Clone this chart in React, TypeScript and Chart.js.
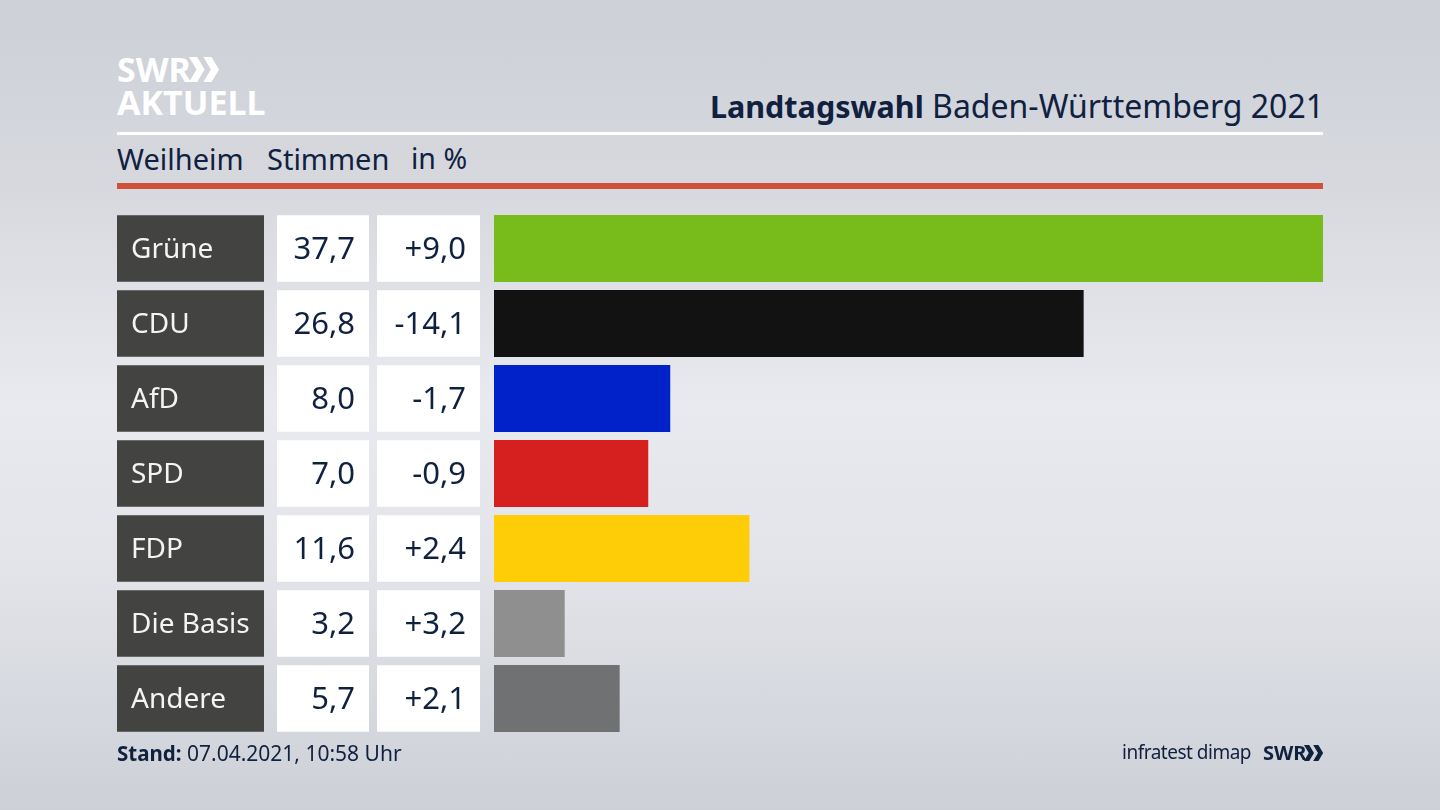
import { Chart, registerables } from "chart.js";
import { useEffect, useRef } from "react";

Chart.register(...registerables);

const parties = ["Grüne", "CDU", "AfD", "SPD", "FDP", "Die Basis", "Andere"];
const shares = [37.7, 26.8, 8.0, 7.0, 11.6, 3.2, 5.7];
const changes = [9.0, -14.1, -1.7, -0.9, 2.4, 3.2, 2.1];
const barColors = ["#78bc1b", "#121212", "#0022c8", "#d61f1f", "#ffcc08", "#8f8f8f", "#707172"];

const NAVY = "#10213f";
const FONT = '"Noto Sans", sans-serif';

const fmt = (v: number) => v.toFixed(1).replace(".", ",");
const fmtChange = (v: number) => (v > 0 ? "+" : "") + fmt(v);

// grey name box and the two white cells left of each bar
const rowCells = {
  id: "rowCells",
  beforeDraw(chart: any) {
    const { ctx, scales } = chart;
    ctx.save();
    parties.forEach((_, i) => {
      const y = scales.y.getPixelForValue(i);
      ctx.fillStyle = "#434341";
      ctx.fillRect(117, y - 33.25, 147, 66.5);
      ctx.fillStyle = "#ffffff";
      ctx.fillRect(277, y - 33.25, 92, 66.5);
      ctx.fillRect(377, y - 33.25, 103, 66.5);
    });
    ctx.restore();
    // party names sit a little below the row centre
    ctx.save();
    ctx.translate(0, 2);
  },
  beforeDatasetsDraw(chart: any) {
    chart.ctx.restore();
  },
  afterDraw(chart: any) {
    const { ctx, scales } = chart;
    ctx.save();
    ctx.fillStyle = NAVY;
    ctx.font = `31px ${FONT}`;
    ctx.textAlign = "right";
    ctx.textBaseline = "middle";
    parties.forEach((_, i) => {
      const y = scales.y.getPixelForValue(i) + 1.5;
      ctx.fillText(fmt(shares[i]), 355, y);
      ctx.fillText(fmtChange(changes[i]), 466, y);
    });
    ctx.restore();
  },
};

function Label(props: { x?: number; right?: number; y: number; size: number; weight?: number; color?: string; children: any }) {
  const { x, right, y, size, weight, color, children } = props;
  return (
    <div
      style={{
        position: "absolute",
        left: x,
        right,
        top: y,
        fontSize: size,
        fontWeight: weight ?? 400,
        color: color ?? NAVY,
        lineHeight: 1,
        whiteSpace: "nowrap",
      }}
    >
      {children}
    </div>
  );
}

function Chevrons(props: { x: number; y: number; h: number; color: string }) {
  const { x, y, h, color } = props;
  return (
    <svg style={{ position: "absolute", left: x, top: y }} width={h * 1.2} height={h} viewBox="0 0 24 20">
      <path d="M0 0h6.5l6 10-6 10H0l6-10zM11.5 0h6.5l6 10-6 10h-6.5l6-10z" fill={color} />
    </svg>
  );
}

export default function App() {
  const canvasRef = useRef<HTMLCanvasElement>(null);

  useEffect(() => {
    if (!canvasRef.current) return;
    const chart = new Chart(canvasRef.current, {
      type: "bar",
      data: {
        labels: parties,
        datasets: [{ data: shares, backgroundColor: barColors, barThickness: 66.5 }],
      },
      options: {
        indexAxis: "y",
        responsive: false,
        animation: false,
        layout: { padding: { left: 131, right: 117, top: 211, bottom: 74 } },
        plugins: { legend: { display: false }, tooltip: { enabled: false } },
        scales: {
          x: { display: false, min: 0, max: 37.7 },
          y: {
            afterFit: (scale: any) => {
              scale.width = 363;
            },
            grid: { display: false },
            border: { display: false },
            ticks: {
              crossAlign: "far",
              color: "#f4f4f4",
              font: { family: "Noto Sans", size: 28 },
              autoSkip: false,
            },
          },
        },
      },
      plugins: [rowCells],
    });
    return () => chart.destroy();
  }, []);

  return (
    <div
      style={{
        position: "fixed",
        left: 0,
        top: 0,
        width: 1440,
        height: 810,
        overflow: "hidden",
        fontFamily: FONT,
        background: "linear-gradient(180deg, #cdd0d7 0%, #d6d8de 22%, #e9eaef 50%, #e2e4e9 70%, #cdd0d7 100%)",
      }}
    >
      <Label x={117} y={52} size={34} weight={700} color="#ffffff">SWR</Label>
      <Chevrons x={189} y={57} h={25} color="#ffffff" />
      <Label x={117} y={85} size={34} weight={700} color="#ffffff">AKTUELL</Label>

      <Label right={116} y={90} size={32}>
        <b style={{ fontSize: 30.5 }}>Landtagswahl</b> Baden-Württemberg 2021
      </Label>
      <div style={{ position: "absolute", left: 117, top: 132, width: 1206, height: 3, background: "#ffffff" }} />
      <Label x={117} y={144} size={29}>Weilheim</Label>
      <Label x={267} y={144} size={29}>Stimmen</Label>
      <Label x={411} y={144} size={28.5}>in %</Label>
      <div style={{ position: "absolute", left: 117, top: 183, width: 1206, height: 6, background: "#cf5238" }} />

      <canvas ref={canvasRef} width={1440} height={810} style={{ position: "absolute", left: 0, top: 0 }} />

      <Label x={117} y={743} size={21}>
        <b style={{ fontSize: 20.5 }}>Stand:</b> 07.04.2021, 10:58 Uhr
      </Label>
      <div style={{ position: "absolute", right: 189, top: 743, fontSize: 19, lineHeight: 1, letterSpacing: -0.5, color: NAVY, whiteSpace: "nowrap" }}>
        infratest dimap
      </div>
      <Label x={1263} y={743} size={20} weight={700}>SWR</Label>
      <Chevrons x={1304} y={745} h={16} color={NAVY} />
    </div>
  );
}
